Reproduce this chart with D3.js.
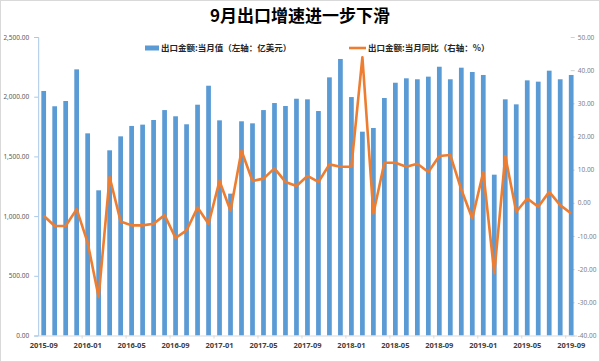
<!DOCTYPE html>
<html>
<head>
<meta charset="utf-8">
<script src="https://cdn.jsdelivr.net/npm/d3@7"></script>
<style>
  body { margin: 0; background: #fff; }
  svg { display: block; font-family: "Noto Sans CJK SC", "Noto Sans", sans-serif; }
</style>
</head>
<body>
<script>
// month labels, 2015-09 .. 2019-09
var months = [
  "2015-09","2015-10","2015-11","2015-12",
  "2016-01","2016-02","2016-03","2016-04","2016-05","2016-06","2016-07","2016-08","2016-09","2016-10","2016-11","2016-12",
  "2017-01","2017-02","2017-03","2017-04","2017-05","2017-06","2017-07","2017-08","2017-09","2017-10","2017-11","2017-12",
  "2018-01","2018-02","2018-03","2018-04","2018-05","2018-06","2018-07","2018-08","2018-09","2018-10","2018-11","2018-12",
  "2019-01","2019-02","2019-03","2019-04","2019-05","2019-06","2019-07","2019-08","2019-09"
];
// 出口金额:当月值 (亿美元)
var exportValue = [
  2048, 1920, 1964, 2229,
  1693, 1216, 1551, 1668, 1755, 1766, 1805, 1888, 1836, 1769, 1933, 2092,
  1802, 1188, 1794, 1777, 1888, 1947, 1922, 1983, 1978, 1880, 2162, 2316,
  1997, 1707, 1738, 1989, 2117, 2154, 2146, 2168, 2251, 2146, 2243, 2207,
  2182, 1347, 1978, 1936, 2137, 2126, 2218, 2146, 2182
];
// 出口金额:当月同比 (%)
var exportYoY = [
  -3.9, -7.0, -7.0, -1.9,
  -12.0, -28.4, 7.8, -5.6, -6.8, -6.8, -6.3, -3.7, -10.6, -8.3, -1.4, -6.3,
  6.6, -2.4, 15.7, 6.6, 7.3, 10.4, 6.3, 5.1, 8.1, 6.3, 11.6, 10.9,
  10.9, 43.9, -3.2, 12.1, 12.1, 10.9, 11.8, 9.3, 14.1, 14.4, 4.0, -4.7,
  9.3, -21.2, 14.1, -2.7, 1.3, -1.2, 3.3, -0.7, -3.2
];
var leftTicks = [0, 500, 1000, 1500, 2000, 2500];
var rightTicks = [-40, -30, -20, -10, 0, 10, 20, 30, 40, 50];
var xTickLabels = ["2015-09","2016-01","2016-05","2016-09","2017-01","2017-05","2017-09",
                   "2018-01","2018-05","2018-09","2019-01","2019-05","2019-09"];

var data = months.map((m, i) => ({month: m, value: exportValue[i], yoy: exportYoY[i]}));

var width = 600, height = 362;
var margin = ({top: 37, right: 23.3, bottom: 26.5, left: 38.2});

var x = d3.scaleBand()
    .domain(months)
    .range([margin.left, width - margin.right])
    .paddingInner(0.57)
    .paddingOuter(0.285);

var y = d3.scaleLinear()
    .domain([0, 2500])
    .range([height - margin.bottom, margin.top]);

var y2 = d3.scaleLinear()
    .domain([-40, 50])
    .range([height - margin.bottom, margin.top]);

const svg = d3.select("body").append("svg")
    .attr("width", width)
    .attr("height", height);

// frame
svg.append("rect")
    .attr("x", 0.5).attr("y", 0.5)
    .attr("width", width - 1).attr("height", height - 1)
    .attr("fill", "#fff")
    .attr("stroke", "#d9d9d9");

// title
svg.append("text")
    .attr("x", 300).attr("y", 22)
    .attr("text-anchor", "middle")
    .attr("font-size", 17)
    .attr("font-weight", "bold")
    .attr("fill", "#000")
    .text("9月出口增速进一步下滑");

// left axis
var yAxis = g => g
    .attr("transform", `translate(${margin.left},0)`)
    .call(d3.axisLeft(y).tickValues(leftTicks).tickFormat(d3.format(",.2f")).tickSize(4).tickPadding(5))
    .call(g => g.select(".domain").attr("stroke", "#a9c8e8"))
    .call(g => g.selectAll(".tick line").attr("stroke", "#a9c8e8"))
    .call(g => g.selectAll(".tick text").attr("fill", "#595959").attr("font-size", 6.5).attr("font-family", "Noto Sans"));

// right axis
var y2Axis = g => g
    .attr("transform", `translate(${width - margin.right - 6},0)`)
    .call(d3.axisRight(y2).tickValues(rightTicks).tickFormat(d => d.toFixed(2)).tickSize(4).tickPadding(3))
    .call(g => g.select(".domain").remove())
    .call(g => g.selectAll(".tick line").attr("stroke", "#d0d0d0"))
    .call(g => g.selectAll(".tick text").attr("fill", "#7f7f7f").attr("font-size", 6.5).attr("font-family", "Noto Sans"));

svg.append("g").call(yAxis);
svg.append("g").call(y2Axis);

// bars
svg.append("g")
    .attr("fill", "#5b9bd5")
  .selectAll("rect")
  .data(data)
  .enter().append("rect")
    .attr("x", d => x(d.month))
    .attr("y", d => y(d.value))
    .attr("width", x.bandwidth())
    .attr("height", d => y(0) - y(d.value));

// bottom axis
var xAxis = g => g
    .attr("transform", `translate(0,${height - margin.bottom})`)
    .call(d3.axisBottom(x).tickValues(xTickLabels).tickSize(0).tickPadding(7))
    .call(g => g.select(".domain").attr("stroke", "#d9d9d9"))
    .call(g => g.selectAll(".tick text")
        .attr("fill", "#404040").attr("font-size", 7.5).attr("font-weight", "bold").attr("font-family", "Noto Sans"));

svg.append("g").call(xAxis);

// small marks at left edge of labelled months
svg.append("g")
    .attr("stroke", "#d9d9d9")
  .selectAll("line")
  .data(xTickLabels.slice(1))
  .enter().append("line")
    .attr("x1", d => x(d) - x.step() * x.paddingInner() / 2)
    .attr("x2", d => x(d) - x.step() * x.paddingInner() / 2)
    .attr("y1", height - margin.bottom)
    .attr("y2", height - margin.bottom + 3);

// yoy line
var line = d3.line()
    .x(d => x(d.month) + x.bandwidth() / 2)
    .y(d => y2(d.yoy));

svg.append("path")
    .datum(data)
    .attr("fill", "none")
    .attr("stroke", "#ed7d31")
    .attr("stroke-width", 2.6)
    .attr("stroke-linejoin", "round")
    .attr("d", line);

// legend
var legend = svg.append("g")
    .attr("font-size", 8.5)
    .attr("font-weight", "bold")
    .attr("fill", "#262626");

legend.append("rect")
    .attr("x", 145).attr("y", 45.5)
    .attr("width", 14).attr("height", 5)
    .attr("fill", "#5b9bd5");
legend.append("text")
    .attr("x", 161).attr("y", 51)
    .text("出口金额:当月值（左轴：亿美元）");

legend.append("line")
    .attr("x1", 349).attr("x2", 366)
    .attr("y1", 48).attr("y2", 48)
    .attr("stroke", "#ed7d31")
    .attr("stroke-width", 2.6);
legend.append("text")
    .attr("x", 368).attr("y", 51)
    .text("出口金额:当月同比（右轴：%）");

svg.node();
</script>
</body>
</html>
